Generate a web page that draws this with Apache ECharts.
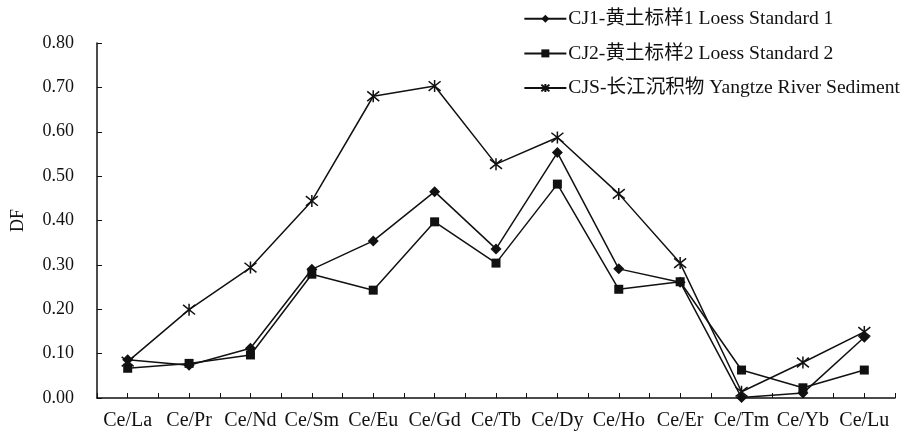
<!DOCTYPE html>
<html>
<head>
<meta charset="utf-8">
<script src="https://cdn.jsdelivr.net/npm/echarts@6/dist/echarts.min.js"></script>
<style>
  html, body { margin: 0; padding: 0; background: #fff; }
  #chart { width: 906px; height: 438px; }
</style>
</head>
<body>
<div id="chart"></div>
<script>
// Ce ratio categories
const categories = ['Ce/La', 'Ce/Pr', 'Ce/Nd', 'Ce/Sm', 'Ce/Eu', 'Ce/Gd', 'Ce/Tb',
  'Ce/Dy', 'Ce/Ho', 'Ce/Er', 'Ce/Tm', 'Ce/Yb', 'Ce/Lu'];

// DF values per sample
const cj1Values = [0.086, 0.074, 0.112, 0.290, 0.354, 0.465, 0.336, 0.553, 0.291, 0.261, 0.001, 0.011, 0.137];
const cj2Values = [0.067, 0.078, 0.097, 0.279, 0.243, 0.397, 0.304, 0.482, 0.245, 0.262, 0.063, 0.023, 0.063];
const cjsValues = [0.082, 0.199, 0.294, 0.444, 0.680, 0.703, 0.527, 0.587, 0.460, 0.304, 0.014, 0.080, 0.149];

const seriesNames = [
  'CJ1-黄土标样1 Loess Standard 1',
  'CJ2-黄土标样2 Loess Standard 2',
  'CJS-长江沉积物 Yangtze River Sediment'
];

const yTicks = { min: 0, max: 0.8, step: 0.1 };

const FONT = "'Liberation Serif', 'Times New Roman', 'Noto Sans CJK SC', serif";
const INK = '#111';

// six-armed asterisk marker
const asteriskPath = 'path://M0,-10L0,10M-8,-8L8,8M-8,8L8,-8';

function lineSeries(name, data, symbol, size, strokeOnly) {
  return {
    name: name,
    type: 'line',
    data: data,
    symbol: symbol,
    symbolSize: size,
    showSymbol: true,
    lineStyle: { color: INK, width: 1.5 },
    itemStyle: strokeOnly
      ? { color: 'rgba(0,0,0,0)', borderColor: INK, borderWidth: 1.5 }
      : { color: INK, borderWidth: 0 },
    emphasis: { disabled: true },
    animation: false,
    z: 3
  };
}

const chart = echarts.init(document.getElementById('chart'), null, { renderer: 'canvas' });

chart.setOption({
  backgroundColor: '#fff',
  textStyle: { fontFamily: FONT, color: INK },
  grid: { left: 97, right: 11, top: 43, bottom: 40, containLabel: false, outerBoundsMode: 'none' },
  legend: {
    orient: 'vertical',
    right: 1,
    top: 4,
    itemWidth: 42,
    itemHeight: 10,
    itemGap: 15,
    textStyle: { fontFamily: FONT, fontSize: 19.6, color: INK, padding: [0, 0, 0, -3] },
    data: seriesNames
  },
  xAxis: [
    {
      type: 'category',
      data: categories,
      position: 'bottom',
      boundaryGap: true,
      axisLine: { lineStyle: { color: INK, width: 1.5 } },
      axisTick: { show: true, inside: true, length: 5, lineStyle: { color: INK } },
      axisLabel: { fontFamily: FONT, fontSize: 20, color: INK, margin: 13, interval: 0 },
      splitLine: { show: false }
    },
    {
      type: 'category',
      data: categories,
      position: 'bottom',
      gridIndex: 0,
      boundaryGap: true,
      axisLine: { show: false },
      axisTick: { show: true, inside: true, length: 5, alignWithLabel: true, lineStyle: { color: INK } },
      axisLabel: { show: false },
      splitLine: { show: false }
    }
  ],
  yAxis: {
    type: 'value',
    min: yTicks.min,
    max: yTicks.max,
    interval: yTicks.step,
    name: 'DF',
    nameLocation: 'middle',
    nameGap: 70,
    nameRotate: 90,
    nameTextStyle: { fontFamily: FONT, fontSize: 18, color: INK },
    axisLine: { show: true, lineStyle: { color: INK, width: 1.5 } },
    axisTick: { show: true, inside: true, length: 5, lineStyle: { color: INK } },
    axisLabel: {
      fontFamily: FONT, fontSize: 18, color: INK, margin: 23,
      formatter: v => v.toFixed(2)
    },
    splitLine: { show: false }
  },
  series: [
    lineSeries(seriesNames[0], cj1Values, 'diamond', 11, false),
    lineSeries(seriesNames[1], cj2Values, 'rect', 9, false),
    lineSeries(seriesNames[2], cjsValues, asteriskPath, 12, true)
  ]
});
</script>
</body>
</html>
